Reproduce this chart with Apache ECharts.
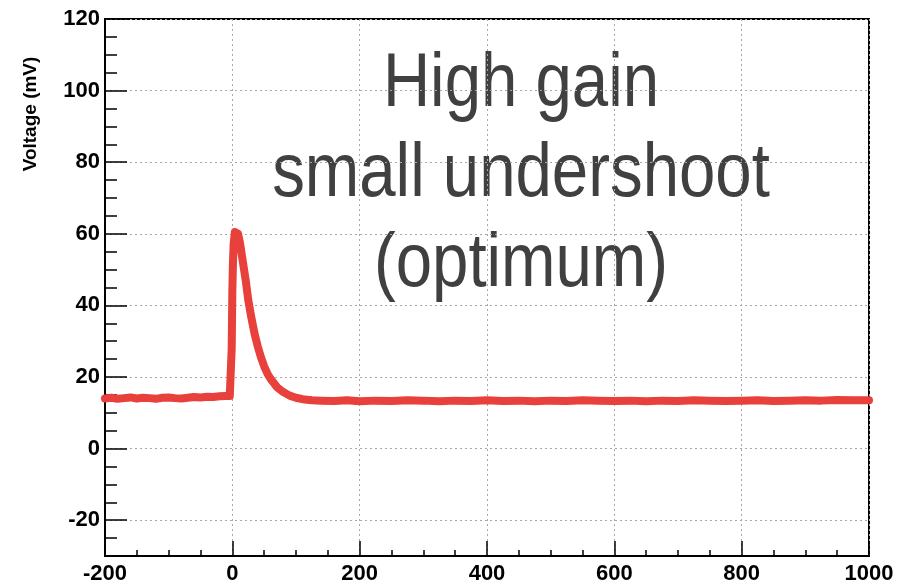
<!DOCTYPE html>
<html>
<head>
<meta charset="utf-8">
<script src="https://cdn.jsdelivr.net/npm/echarts@6/dist/echarts.min.js"></script>
<style>
  html, body { margin: 0; padding: 0; background: #fff; }
  #chart { width: 897px; height: 585px; }
</style>
</head>
<body>
<div id="chart"></div>
<script>
// time axis values (ns) and the measured pulse (mV)
const timeValues = [
  -200, -190, -180, -170, -160, -150, -140, -130, -120, -110,
  -100, -90, -80, -70, -60, -50, -40, -30, -20, -10,
  -4, -2, -1, 0, 1, 2, 4, 6, 9, 12, 15, 18, 21, 25, 30, 35, 40, 45, 50, 55, 60,
  70, 80, 90, 100, 110, 125, 140, 160, 180, 200, 225, 250, 275, 300, 325, 350,
  375, 400, 425, 450, 475, 500, 525, 550, 575, 600, 625, 650, 675, 700, 725,
  750, 775, 800, 825, 850, 875, 900, 925, 950, 975, 1000
];
const voltageValues = [
  14.0, 14.2, 13.9, 14.1, 14.3, 14.0, 14.2, 14.1, 13.9, 14.2,
  14.3, 14.1, 14.0, 14.2, 14.4, 14.3, 14.5, 14.4, 14.6, 14.7,
  14.7, 15.2, 28, 44, 52, 57, 60.5, 61, 60, 57.5, 54, 50.5, 47, 41.5, 36.5, 32, 28.5, 25.5, 23, 21, 19.5,
  17.2, 15.8, 14.8, 14.2, 13.8, 13.5, 13.4, 13.3, 13.5, 13.2, 13.4, 13.3, 13.5, 13.4, 13.2, 13.4,
  13.3, 13.5, 13.3, 13.4, 13.2, 13.4, 13.3, 13.5, 13.4, 13.3, 13.4, 13.2, 13.4, 13.3, 13.5,
  13.4, 13.3, 13.4, 13.5, 13.3, 13.4, 13.5, 13.4, 13.6, 13.5, 13.5
];
const annotationLines = ['High gain', 'small undershoot', '(optimum)'];
const yAxisTitle = 'Voltage (mV)';

const chart = echarts.init(document.getElementById('chart'), null, { renderer: 'canvas' });

const labelFont = {
  color: '#000',
  fontFamily: '"Liberation Sans", Arial, Helvetica, sans-serif',
  fontWeight: 'bold',
  fontSize: 22,
  formatter: function (v) { return String(v); }
};
const gridDots = { color: '#a8a8a8', width: 1, type: [2, 3] };

const option = {
  backgroundColor: '#fff',
  animation: false,
  grid: {
    left: 105, right: 28, top: 19, bottom: 28,
    show: true, borderColor: '#000', borderWidth: 2, backgroundColor: 'transparent'
  },
  xAxis: {
    type: 'value',
    min: -200, max: 1000, interval: 200,
    axisLine: { show: true, onZero: false, lineStyle: { color: '#000', width: 2 } },
    axisTick: { show: true, inside: true, length: 15, lineStyle: { color: '#000', width: 1.5 } },
    minorTick: { show: true, splitNumber: 4, length: 6, lineStyle: { color: '#000', width: 1.5 } },
    axisLabel: Object.assign({ margin: 7 }, labelFont),
    splitLine: { show: true, lineStyle: gridDots }
  },
  yAxis: [
    {
      type: 'value',
      min: -30, max: 120, splitNumber: 7,
      axisLine: { show: true, onZero: false, lineStyle: { color: '#000', width: 2 } },
      axisTick: { show: true, inside: true, length: 22, lineStyle: { color: '#000', width: 1.5 } },
      axisLabel: Object.assign({ margin: 5, showMinLabel: false }, labelFont),
      splitLine: { show: true, lineStyle: gridDots }
    },
    {
      // minor ticks every 5 mV
      type: 'value',
      position: 'left',
      min: -30, max: 120, interval: 5,
      axisLine: { show: false, onZero: false },
      axisTick: { show: true, inside: true, length: 12, lineStyle: { color: '#000', width: 1.5 } },
      axisLabel: { show: false },
      splitLine: { show: false }
    }
  ],
  graphic: [
    {
      type: 'text', x: 31, y: 114, rotation: Math.PI / 2,
      style: {
        text: yAxisTitle, fill: '#000', align: 'center', verticalAlign: 'middle',
        font: 'bold 19px "Liberation Sans", Arial, sans-serif'
      }
    }
  ].concat(annotationLines.map(function (line, i) {
    return {
      type: 'text', x: 521, y: 85 + i * 90, scaleX: 0.86,
      style: {
        text: line, fill: '#404040', align: 'center', verticalAlign: 'middle',
        font: '76px "Liberation Sans", Arial, Helvetica, sans-serif'
      }
    };
  })),
  series: [
    {
      type: 'line',
      yAxisIndex: 0,
      symbol: 'none',
      smooth: false,
      lineStyle: { color: '#e8403a', width: 8, join: 'round', cap: 'round' },
      data: timeValues.map(function (t, i) { return [t, voltageValues[i]]; })
    }
  ]
};

chart.setOption(option);
</script>
</body>
</html>
